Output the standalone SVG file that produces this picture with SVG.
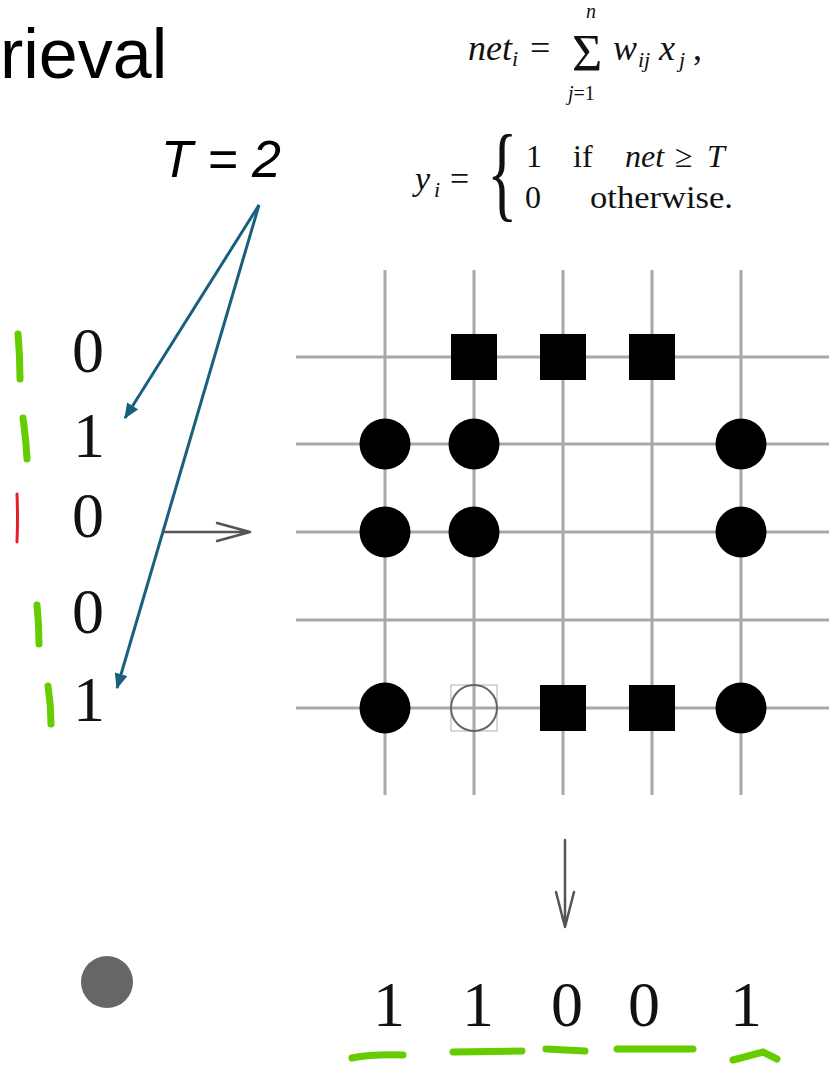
<svg xmlns="http://www.w3.org/2000/svg" width="832" height="1067" viewBox="0 0 832 1067">
<style>
.serif{font-family:"Liberation Serif","Times New Roman",serif;fill:#111}
.it{font-style:italic}
.dig{font-family:"Liberation Serif","Times New Roman",serif;font-size:64px;fill:#111;text-anchor:middle}
.grid{stroke:#a8a8a8;stroke-width:3;fill:none}
.blk{fill:#000}
.green{stroke:#66cc00;stroke-width:7;stroke-linecap:round;fill:none}
.blue{stroke:#17607f;stroke-width:3;fill:none}
.gray{stroke:#555;stroke-width:2.5;fill:none;stroke-linecap:round;stroke-linejoin:round}
</style>
<defs>
<marker id="bh" viewBox="0 0 12 10" refX="11" refY="5" markerWidth="16" markerHeight="13" markerUnits="userSpaceOnUse" orient="auto">
<path d="M0,0 L12,5 L0,10 Z" fill="#17607f"/>
</marker>
</defs>
<rect width="832" height="1067" fill="#fff"/>

<g id="title">
<text x="0" y="78" font-family="Liberation Sans, Arial, sans-serif" font-size="70" fill="#000">rieval</text>
</g>

<g id="threshold">
<text x="161" y="177" font-family="Liberation Sans, Arial, sans-serif" font-style="italic" font-size="52" fill="#000">T = 2</text>
</g>

<g id="formula1" class="serif">
<text x="468" y="60" font-size="36" class="it">net</text>
<text x="512" y="66" font-size="22" class="it">i</text>
<text x="530" y="60" font-size="36">=</text>
<text x="572" y="71" font-size="52">Σ</text>
<text x="586" y="18" font-size="20" class="it">n</text>
<text x="568" y="100" font-size="20"><tspan class="it">j</tspan>=1</text>
<text x="613" y="60" font-size="36" class="it">w</text>
<text x="638" y="67" font-size="22" class="it">ij</text>
<text x="659" y="60" font-size="36" class="it">x</text>
<text x="679" y="67" font-size="22" class="it">j</text>
<text x="693" y="60" font-size="36">,</text>
</g>

<g id="formula2" class="serif">
<text x="415" y="190" font-size="34" class="it">y</text>
<text x="434" y="197" font-size="22" class="it">i</text>
<text x="450" y="190" font-size="34">=</text>
<text transform="translate(487,208) scale(0.6,1)" font-size="106">{</text>
<text x="526" y="167" font-size="32">1</text>
<text x="573" y="167" font-size="32">if</text>
<text x="625" y="167" font-size="32" class="it">net</text>
<text x="675" y="167" font-size="32">≥</text>
<text x="707" y="167" font-size="32" class="it">T</text>
<text x="525" y="208" font-size="32">0</text>
<text x="590" y="208" font-size="32" textLength="143" lengthAdjust="spacingAndGlyphs">otherwise.</text>
</g>

<g id="input-vector">
<text class="dig" x="88" y="372">0</text>
<text class="dig" x="89" y="457">1</text>
<text class="dig" x="88" y="537">0</text>
<text class="dig" x="88" y="633">0</text>
<text class="dig" x="89" y="721">1</text>
</g>

<g id="grid">
<line class="grid" x1="296" y1="357" x2="829" y2="357"/>
<line class="grid" x1="296" y1="444" x2="829" y2="444"/>
<line class="grid" x1="296" y1="532" x2="829" y2="532"/>
<line class="grid" x1="296" y1="620" x2="829" y2="620"/>
<line class="grid" x1="296" y1="708" x2="829" y2="708"/>
<line class="grid" x1="385" y1="270" x2="385" y2="795"/>
<line class="grid" x1="474" y1="270" x2="474" y2="795"/>
<line class="grid" x1="563" y1="270" x2="563" y2="795"/>
<line class="grid" x1="652" y1="270" x2="652" y2="795"/>
<line class="grid" x1="741" y1="270" x2="741" y2="795"/>
</g>

<g id="weights">
<rect class="blk" x="451" y="334" width="46" height="46"/>
<rect class="blk" x="540" y="334" width="46" height="46"/>
<rect class="blk" x="629" y="334" width="46" height="46"/>
<circle class="blk" cx="385" cy="444" r="25.5"/>
<circle class="blk" cx="474" cy="444" r="25.5"/>
<circle class="blk" cx="741" cy="444" r="25.5"/>
<circle class="blk" cx="385" cy="532" r="25.5"/>
<circle class="blk" cx="474" cy="532" r="25.5"/>
<circle class="blk" cx="741" cy="532" r="25.5"/>
<circle class="blk" cx="385" cy="708" r="25.5"/>
<rect x="451" y="685" width="46" height="46" fill="none" stroke="#b0b0b0" stroke-width="1"/>
<circle cx="474" cy="708" r="23" fill="none" stroke="#666" stroke-width="2"/>
<rect class="blk" x="540" y="685" width="46" height="46"/>
<rect class="blk" x="629" y="685" width="46" height="46"/>
<circle class="blk" cx="741" cy="708" r="25.5"/>
</g>

<g id="output-vector">
<text class="dig" x="389" y="1026">1</text>
<text class="dig" x="478" y="1026">1</text>
<text class="dig" x="567" y="1026">0</text>
<text class="dig" x="644" y="1026">0</text>
<text class="dig" x="746" y="1026">1</text>
</g>

<g id="dot">
<circle cx="107" cy="982" r="26" fill="#666"/>
</g>

<g id="connectors">
<line class="blue" x1="259" y1="205" x2="125" y2="418" marker-end="url(#bh)"/>
<line class="blue" x1="259" y1="205" x2="117" y2="688" marker-end="url(#bh)"/>
<path class="gray" d="M163,532 L250,532 M217,523 L250,532 L217,541"/>
<path class="gray" d="M565,840 L565,927 M556,892 L565,927 L574,892" stroke-width="2"/>
</g>

<g id="annotations">
<path class="green" d="M18,334 Q20,356 20,379"/>
<path class="green" d="M23,418 Q26,440 27,459"/>
<path d="M17,494 Q18,518 17,542" stroke="#e41f2d" stroke-width="3" stroke-linecap="round" fill="none"/>
<path class="green" d="M37,605 Q39,625 39,644"/>
<path class="green" d="M48,686 Q51,705 51,724"/>
<path class="green" d="M352,1058 Q372,1054 403,1055"/>
<path class="green" d="M453,1052 L522,1051"/>
<path class="green" d="M546,1049 L585,1051"/>
<path class="green" d="M617,1049 L693,1049"/>
<path class="green" d="M733,1060 L763,1052 L777,1059"/>
</g>
</svg>
